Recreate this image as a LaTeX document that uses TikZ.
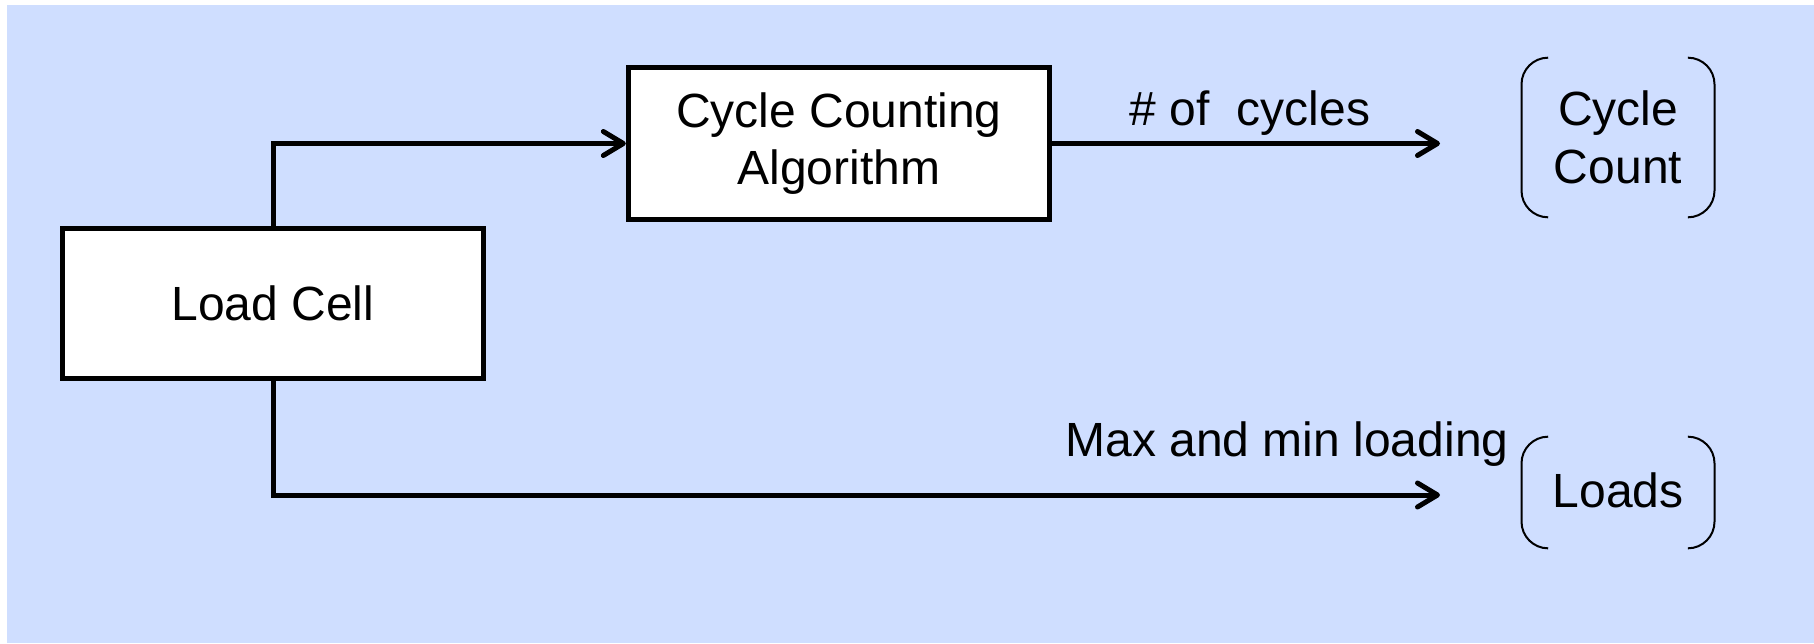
\documentclass[tikz,border=0pt]{standalone}
\usepackage{fontspec}
\setmainfont{Liberation Sans}
\usetikzlibrary{arrows.meta}
\definecolor{bgblue}{RGB}{207,222,255}
\tikzset{every picture/.style={line width=0.75pt},
	block/.style={draw, fill=white, line width=3.75pt, inner sep=0pt, minimum width=316pt, align=center, font=\fontsize{36}{43}\selectfont},
	flow/.style={line width=3.75pt, line cap=round, -{Straight Barb[length=15pt,width=18pt,round]}},
	lbl/.style={inner sep=0.75pt, align=center, font=\fontsize{36}{43}\selectfont},
	bkt/.style={line width=1.5pt, rounded corners=20pt}
}

\begin{document}
\begin{tikzpicture}[x=0.75pt,y=0.75pt,yscale=-1,xscale=1]
		\useasboundingbox (0,0) rectangle (1814,643);
		%Shape: Rectangle (background)
		\fill [bgblue] (7,5) rectangle (1814,643);
		
		%Shape: Rectangle
		\node [block, minimum height=113pt] (load) at (273,303.5) {Load Cell};
		%Shape: Rectangle
		\node [block, minimum height=114pt] (algo) at (839,143.5) {Cycle Counting\\Algorithm};
		
		%Brackets
		\node [lbl, minimum width=144pt, minimum height=119pt] (count) at (1618,137.5) {Cycle\\Count};
		\draw [bkt] ([xshift=20pt]count.north west) -- (count.north west) -- (count.south west) -- ([xshift=20pt]count.south west);
		\draw [bkt] ([xshift=-20pt]count.north east) -- (count.north east) -- (count.south east) -- ([xshift=-20pt]count.south east);
		\node [lbl, minimum width=144pt, minimum height=83pt] (loads) at (1618,492.5) {\raisebox{4pt}{Loads}};
		\draw [bkt] ([xshift=20pt]loads.north west) -- (loads.north west) -- (loads.south west) -- ([xshift=20pt]loads.south west);
		\draw [bkt] ([xshift=-20pt]loads.north east) -- (loads.north east) -- (loads.south east) -- ([xshift=-20pt]loads.south east);
		
		%Connectors
		\coordinate (cycend) at (1440,143.5);
		\coordinate (ldend) at (1440,495);
		\draw [flow] (load.north) |- (algo.west);
		\draw [flow] (algo.east) -- (cycend);
		\draw [flow] (load.south) |- (ldend);
		
		\node [lbl] (ncyc) at (1250,113.5) {\# of\ \ cycles};
		\node [lbl, anchor=east] (nload) at (1510,444) {Max and min loading};
		
\end{tikzpicture}
\end{document}
